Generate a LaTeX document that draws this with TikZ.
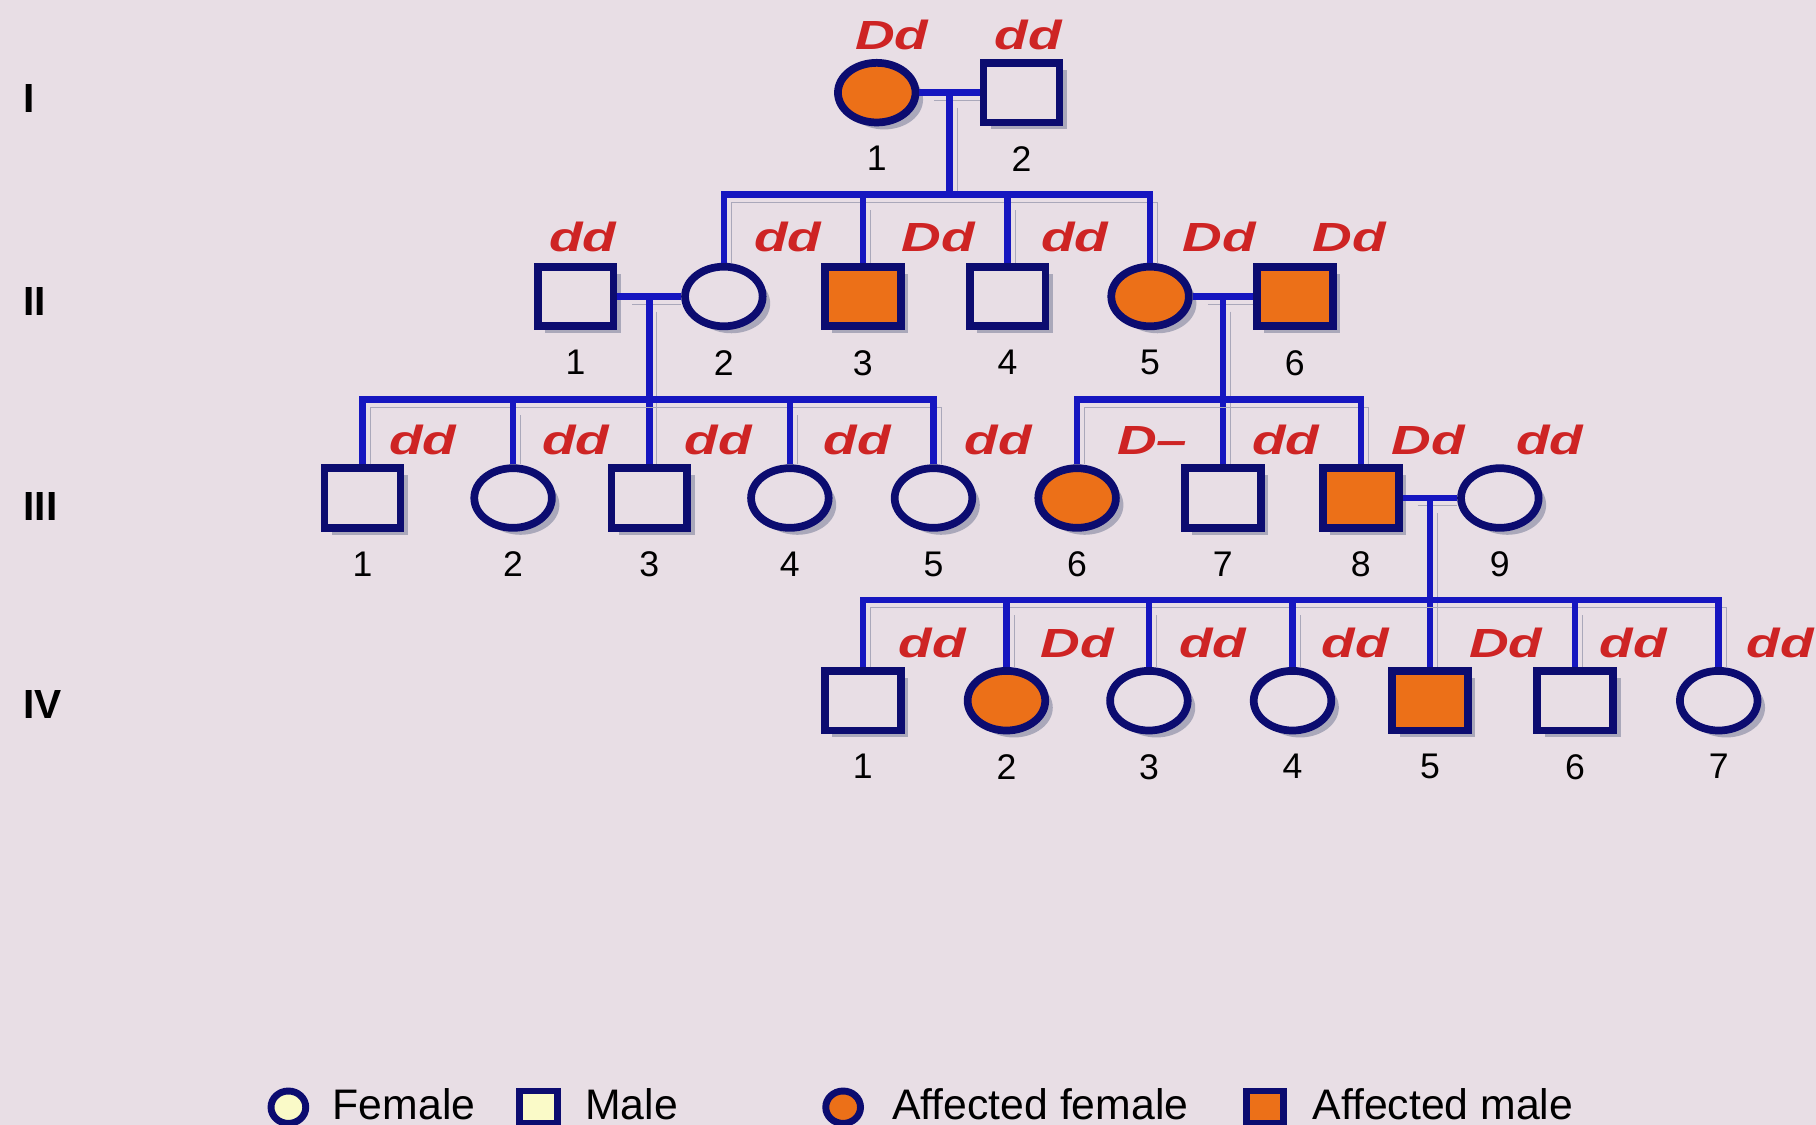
\documentclass[tikz,border=0pt]{standalone}
\usepackage{fontspec}
\setmainfont{Liberation Sans}
\newfontfamily\genofont[FakeStretch=1.35]{Liberation Sans}
\usepackage{tikz}
\usetikzlibrary{positioning, shapes.geometric, shadows, calc}
\definecolor{bgcol}{RGB}{232,222,229}
\definecolor{navy}{RGB}{12,12,112}
\definecolor{linkblue}{RGB}{22,22,192}
\definecolor{affected}{RGB}{236,112,24}
\definecolor{shadowgray}{RGB}{170,168,186}
\definecolor{genored}{RGB}{206,36,36}
\definecolor{paleyellow}{RGB}{250,250,200}

\begin{document}
\begin{tikzpicture}[
    x=0.02cm, y=-0.02cm,
    person/.style={draw=navy, line width=3.8pt, fill=bgcol, inner sep=0pt,
    drop shadow={shadow xshift=0.13cm, shadow yshift=-0.12cm, fill=shadowgray, opacity=1}},
    male/.style={person, rectangle, minimum width=1.31cm, minimum height=1.03cm},
    female/.style={person, ellipse, minimum width=1.34cm, minimum height=1.03cm},
    amale/.style={male, fill=affected},
    afemale/.style={female, fill=affected},
    keybox/.style={draw=navy, line width=3.4pt, fill=paleyellow, inner sep=0pt},
    keytext/.style={anchor=west, inner sep=0pt, font=\fontsize{21}{21}\selectfont},
    geno/.style={text=genored, inner sep=0pt, font=\genofont\bfseries\itshape\fontsize{20}{20}\selectfont},
    num/.style={below=0.34cm of #1, inner sep=0pt, font=\fontsize{17.5}{17.5}\selectfont},
    gen/.style={anchor=west, inner sep=0pt, font=\bfseries\fontsize{20}{20}\selectfont},
    link/.style={draw=linkblue, line width=3.2pt,
    preaction={draw=shadowgray, shorten <=0.13cm, shorten >=0.13cm,
    transform canvas={xshift=0.13cm, yshift=-0.13cm}}}
]

\fill[bgcol] (0,0) rectangle (1568,971);
\useasboundingbox (0,0) rectangle (1568,971);

\node[gen] (gI) at (20,85) {I};
\node[gen] (gII) at (20,260) {II};
\node[gen] (gIII) at (20,437) {III};
\node[gen] (gIV) at (20,608) {IV};

\node[afemale] (i1) at (757,80) {};
\node[male] (i2) at (882,80) {};
\coordinate (m1) at ($(i1.east)!0.5!(i2.west)$);
\coordinate (s1) at (m1 |- 0,168);

\node[male] (ii1) at (497,256) {};
\node[female] (ii2) at (625,256) {};
\node[amale] (ii3) at (745,256) {};
\node[male] (ii4) at (870,256) {};
\node[afemale] (ii5) at (993,256) {};
\node[amale] (ii6) at (1118,256) {};
\coordinate (m2) at ($(ii1.east)!0.5!(ii2.west)$);
\coordinate (s2) at (m2 |- 0,345);
\coordinate (m3) at ($(ii5.east)!0.5!(ii6.west)$);
\coordinate (s3) at (m3 |- 0,345);

\node[male] (iii1) at (313,430) {};
\node[female] (iii2) at (443,430) {};
\node[male] (iii3) at (m2 |- 0,430) {};
\node[female] (iii4) at (682,430) {};
\node[female] (iii5) at (806,430) {};
\node[afemale] (iii6) at (930,430) {};
\node[male] (iii7) at (m3 |- 0,430) {};
\node[amale] (iii8) at (1175,430) {};
\node[female] (iii9) at (1295,430) {};
\coordinate (m4) at ($(iii8.east)!0.5!(iii9.west)$);
\coordinate (s4) at (m4 |- 0,518);

\node[male] (iv1) at (745,605) {};
\node[afemale] (iv2) at (869,605) {};
\node[female] (iv3) at (992,605) {};
\node[female] (iv4) at (1116,605) {};
\node[amale] (iv5) at (m4 |- 0,605) {};
\node[male] (iv6) at (1360,605) {};
\node[female] (iv7) at (1484,605) {};

\draw[link] (i1) -- (i2);
\draw[link] (m1) -- (s1);
\draw[link] (ii2.north) -- (ii2.north |- s1) -- (ii5.north |- s1) -- (ii5.north);
\draw[link] (ii3.north) -- (ii3.north |- s1);
\draw[link] (ii4.north) -- (ii4.north |- s1);

\draw[link] (ii1) -- (ii2);
\draw[link] (m2) -- (iii3.north);
\draw[link] (iii1.north) -- (iii1.north |- s2) -- (iii5.north |- s2) -- (iii5.north);
\draw[link] (iii2.north) -- (iii2.north |- s2);
\draw[link] (iii4.north) -- (iii4.north |- s2);

\draw[link] (ii5) -- (ii6);
\draw[link] (m3) -- (iii7.north);
\draw[link] (iii6.north) -- (iii6.north |- s3) -- (iii8.north |- s3) -- (iii8.north);

\draw[link] (iii8) -- (iii9);
\draw[link] (m4) -- (iv5.north);
\draw[link] (iv1.north) -- (iv1.north |- s4) -- (iv7.north |- s4) -- (iv7.north);
\draw[link] (iv2.north) -- (iv2.north |- s4);
\draw[link] (iv3.north) -- (iv3.north |- s4);
\draw[link] (iv4.north) -- (iv4.north |- s4);
\draw[link] (iv6.north) -- (iv6.north |- s4);

\node[num=i1] (ni1) {1};
\node[num=i2] (ni2) {2};
\node[num=ii1] (nii1) {1};
\node[num=ii2] (nii2) {2};
\node[num=ii3] (nii3) {3};
\node[num=ii4] (nii4) {4};
\node[num=ii5] (nii5) {5};
\node[num=ii6] (nii6) {6};
\node[num=iii1] (niii1) {1};
\node[num=iii2] (niii2) {2};
\node[num=iii3] (niii3) {3};
\node[num=iii4] (niii4) {4};
\node[num=iii5] (niii5) {5};
\node[num=iii6] (niii6) {6};
\node[num=iii7] (niii7) {7};
\node[num=iii8] (niii8) {8};
\node[num=iii9] (niii9) {9};
\node[num=iv1] (niv1) {1};
\node[num=iv2] (niv2) {2};
\node[num=iv3] (niv3) {3};
\node[num=iv4] (niv4) {4};
\node[num=iv5] (niv5) {5};
\node[num=iv6] (niv6) {6};
\node[num=iv7] (niv7) {7};

\node[geno] (gi1) at (770,30) {Dd};
\node[geno] (gi2) at (888,30) {dd};
\node[geno] (gii1) at (503,205) {dd};
\node[geno] (gii2) at (680,205) {dd};
\node[geno] (gii3) at (810,205) {Dd};
\node[geno] (gii4) at (928,205) {dd};
\node[geno] (gii5) at (1053,205) {Dd};
\node[geno] (gii6) at (1165,205) {Dd};
\node[geno] (giii1) at (365,380) {dd};
\node[geno] (giii2) at (497,380) {dd};
\node[geno] (giii3) at (620,380) {dd};
\node[geno] (giii4) at (740,380) {dd};
\node[geno] (giii5) at (862,380) {dd};
\node[geno] (giii6) at (995,380) {D\textendash};
\node[geno] (giii7) at (1110,380) {dd};
\node[geno] (giii8) at (1233,380) {Dd};
\node[geno] (giii9) at (1338,380) {dd};
\node[geno] (giv1) at (805,555) {dd};
\node[geno] (giv2) at (930,555) {Dd};
\node[geno] (giv3) at (1047,555) {dd};
\node[geno] (giv4) at (1170,555) {dd};
\node[geno] (giv5) at (1300,555) {Dd};
\node[geno] (giv6) at (1410,555) {dd};
\node[geno] (giv7) at (1537,555) {dd};

\node[keybox, ellipse, minimum width=0.6cm, minimum height=0.56cm] (kf) at (249,956) {};
\node[keytext] (tf) at (287,953) {Female};
\node[keybox, rectangle, minimum width=0.66cm, minimum height=0.56cm] (km) at (465,956) {};
\node[keytext] (tm) at (505,953) {Male};
\node[keybox, ellipse, fill=affected, minimum width=0.6cm, minimum height=0.56cm] (kaf) at (728,956) {};
\node[keytext] (taf) at (770,953) {Affected female};
\node[keybox, rectangle, fill=affected, minimum width=0.64cm, minimum height=0.56cm] (kam) at (1092,956) {};
\node[keytext] (tam) at (1133,953) {Affected male};

\end{tikzpicture}
\end{document}
